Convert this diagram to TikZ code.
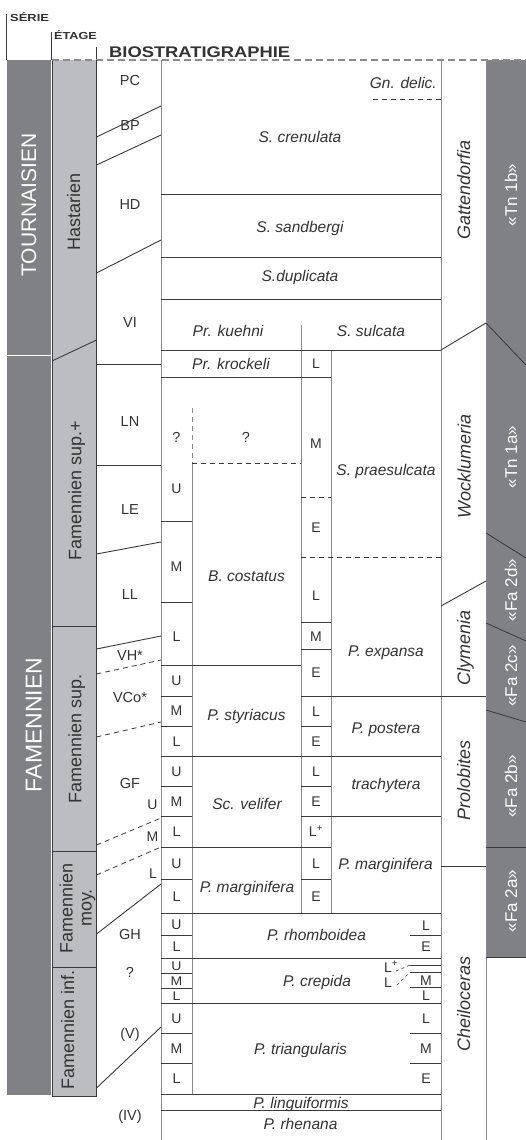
\documentclass[tikz,border=0pt]{standalone}
\usepackage{fontspec}
\setmainfont{Liberation Sans}
\definecolor{serc}{HTML}{808185}
\definecolor{etac}{HTML}{BCBDC0}
\definecolor{lc}{HTML}{3A3A3A}
\definecolor{vc}{HTML}{8A8A8A}
\definecolor{txt}{HTML}{333333}
\definecolor{dc}{HTML}{8C8C8C}
\begin{document}
\begin{tikzpicture}[x=1pt,y=-1pt,
  hl/.style={lc, line width=0.9pt},
  vl/.style={vc, line width=0.9pt},
  dsh/.style={lc, line width=0.8pt, dash pattern=on 5pt off 4pt},
  lab/.style={font=\fontsize{14.5}{16}\selectfont, text=txt, inner sep=0pt, anchor=base},
  sub/.style={font=\fontsize{14}{16}\selectfont, text=txt, inner sep=0pt, anchor=base},
  sp/.style={font=\fontsize{15.5}{18}\selectfont\itshape, text=txt, inner sep=0pt, anchor=base},
  amm/.style={font=\fontsize{18}{20}\selectfont\itshape, text=txt, inner sep=0pt, anchor=base, rotate=90},
  rbar/.style={font=\fontsize{17}{20}\selectfont, text=white, inner sep=0pt, anchor=base, rotate=90},
  eta/.style={font=\fontsize{18}{20}\selectfont, text=txt, inner sep=0pt, anchor=base, rotate=90},
  hdr/.style={font=\bfseries, text=txt, inner sep=0pt, anchor=base west}
]
\useasboundingbox (0,0) rectangle (526,1140);
\fill[white] (0,0) rectangle (526,1140);

% ---- bars ----
\fill[serc] (7,60) rectangle (51,1095);
\draw[white, line width=1pt] (7,355) -- (51,355);
\fill[etac] (52,60) rectangle (96.5,1096);
\draw[lc, line width=0.7pt] (52,60) -- (52,1096) -- (96.5,1096);
\fill[serc] (486,60) rectangle (526,957);

% ---- header ----
\draw[lc, line width=0.8pt] (6,14) -- (6,60);
\draw[lc, line width=0.8pt] (51.5,32) -- (51.5,60);
\draw[lc, line width=0.8pt] (96.5,47) -- (96.5,72);
\node[hdr, font=\bfseries\fontsize{10.2}{12}\selectfont] (hs) at (10,22) {\scalebox{1.27}[1]{SÉRIE}};
\node[hdr, font=\bfseries\fontsize{10.2}{12}\selectfont] (he) at (54,39.5) {\scalebox{1.24}[1]{ÉTAGE}};
\node[hdr, font=\bfseries\fontsize{15.4}{17}\selectfont] (hb) at (109,57) {\scalebox{1.19}[1]{BIOSTRATIGRAPHIE}};
\draw[dc, line width=1.2pt, dash pattern=on 7pt off 4pt] (52,60) -- (526,60);

% ---- vertical lines ----
\draw[lc, line width=0.9pt] (96.5,60) -- (96.5,1096);
\draw[vl] (161,60) -- (161,1140);
\draw[vl] (441,60) -- (441,1140);
\draw[vl] (486,60) -- (486,1140);
\draw[vl] (301,325) -- (301,913);
\draw[vl] (331,350) -- (331,913);
\draw[vl] (192,463) -- (192,1094);
\draw[dsh, vc] (192,408) -- (192,463);

% ---- etage boundaries ----
\draw[hl] (52,361) -- (96.5,340);
\draw[hl] (52,626) -- (96.5,626);
\draw[hl] (52,851) -- (96.5,851);
\draw[hl] (52,967) -- (96.5,967);

% ---- zone column ----
\draw[hl] (96.5,137) -- (161,106);
\draw[hl] (96.5,165) -- (161,135);
\draw[hl] (96.5,273) -- (161,240);
\draw[hl] (96.5,364) -- (161,364);
\draw[hl] (96.5,465) -- (161,465);
\draw[hl] (96.5,554) -- (161,542);
\draw[hl] (96.5,649) -- (161,636);
\draw[dsh] (96.5,674) -- (161,660);
\draw[dsh] (96.5,737) -- (161,722);
\draw[dsh] (96.5,845) -- (161,818);
\draw[dsh] (96.5,875) -- (161,847);
\draw[hl] (96.5,934) -- (161,884);
\draw[hl] (96.5,1088) -- (161,1027);

% ---- conodont column ----
\draw[dsh] (373,99) -- (441,99);
\foreach \yy in {194,257,299,350,913,958,1003,1094,1110}
  \draw[hl] (161,\yy) -- (441,\yy);
\draw[hl] (161,377) -- (331,377);
\draw[dsh] (192,463) -- (301,463);
\foreach \yy in {521,602,696,726,786,816,879,935,973,988,1033,1063}
  \draw[hl] (161,\yy) -- (192,\yy);
\draw[hl] (161,665) -- (301,665);
\draw[hl] (161,756) -- (441,756);
\draw[hl] (161,847) -- (331,847);
\draw[dsh] (301,497) -- (331,497);
\draw[dsh] (301,557) -- (441,557);
\foreach \yy in {622,649,726,786,879}
  \draw[hl] (301,\yy) -- (331,\yy);
\draw[hl] (301,696) -- (486,696);
\draw[hl] (301,816) -- (441,816);
\foreach \yy in {935,965,972,987,1033,1063}
  \draw[hl] (410,\yy) -- (441,\yy);
\draw[dsh, line width=0.6pt, dash pattern=on 3pt off 3pt] (396,971) -- (410,965);
\draw[dsh, line width=0.6pt, dash pattern=on 3pt off 3pt] (397,985) -- (410,972);

% ---- ammonoid column ----
\draw[hl] (441,350) -- (486,323);
\draw[hl] (441,606) -- (486,581);
\draw[hl] (441,866) -- (486,866);

% ---- right bar boundaries ----
\draw[lc, line width=0.8pt] (486,323) -- (526,365);
\draw[lc, line width=0.8pt] (486,533) -- (526,558);
\draw[lc, line width=0.8pt] (486,623) -- (526,641);
\draw[lc, line width=0.8pt] (486,710) -- (526,722);
\draw[lc, line width=0.8pt] (486,847) -- (526,847);
\draw[lc, line width=0.8pt] (486,957) -- (526,957);

% ---- serie / etage labels ----
\node[rotate=90, anchor=base, inner sep=0pt, text=white, font=\fontsize{21}{24}\selectfont] (tou) at (36,205) {TOURNAISIEN};
\node[rotate=90, anchor=base, inner sep=0pt, text=white, font=\fontsize{23}{26}\selectfont] (fam) at (41.5,725) {FAMENNIEN};
\node[eta] (e1) at (80,211.5) {Hastarien};
\node[eta] (e2) at (81.3,491) {Famennien sup.+};
\node[eta] (e3) at (81.3,739) {Famennien sup.};
\node[eta] (e4a) at (72.5,908) {Famennien};
\node[eta] (e4b) at (91.5,908) {moy.};
\node[eta] (e5) at (74,1030) {Famennien inf.};

% ---- zone labels ----
\node[lab] (zPC) at (130,85.2) {PC};
\node[lab] (zBP) at (130,130.2) {BP};
\node[lab] (zHD) at (130,209.2) {HD};
\node[lab] (zVI) at (130,327.2) {VI};
\node[lab] (zLN) at (130,426.2) {LN};
\node[lab] (zLE) at (130,514.2) {LE};
\node[lab] (zLL) at (130,599.2) {LL};
\node[lab] (zVH) at (130,660.7) {VH*};
\node[lab] (zVC) at (130,702.2) {VCo*};
\node[lab] (zGF) at (130,788.2) {GF};
\node[lab] (zGH) at (130,939.7) {GH};
\node[lab] (zQ) at (130,977.2) {?};
\node[lab] (zV) at (130,1038.2) {(V)};
\node[lab] (zIV) at (130,1120.2) {(IV)};
\node[sub] (gU) at (152.5,809) {U};
\node[sub] (gM) at (152.5,841) {M};
\node[sub] (gL) at (153,878) {L};

% ---- left sub-column ----
\node[lab] (aQ) at (176.5,442) {?};
\node[sub] (a1) at (176.5,493.5) {U};
\node[sub] (a2) at (176.5,571) {M};
\node[sub] (a3) at (176.5,641) {L};
\node[sub] (a4) at (176.5,685) {U};
\node[sub] (a5) at (176.5,715.5) {M};
\node[sub] (a6) at (176.5,746) {L};
\node[sub] (a7) at (176.5,776) {U};
\node[sub] (a8) at (176.5,806) {M};
\node[sub] (a9) at (176.5,836.5) {L};
\node[sub] (a10) at (176.5,868) {U};
\node[sub] (a11) at (176.5,901) {L};
\node[sub] (a12) at (176.5,929) {U};
\node[sub] (a13) at (176.5,951.5) {L};
\node[sub] (a14) at (176.5,970) {\scalebox{1}[0.9]{U}};
\node[sub] (a15) at (176.5,985) {\scalebox{1}[0.9]{M}};
\node[sub] (a16) at (176.5,1000) {\scalebox{1}[0.9]{L}};
\node[sub] (a17) at (176.5,1023) {U};
\node[sub] (a18) at (176.5,1053) {M};
\node[sub] (a19) at (176.5,1083.5) {L};

% ---- middle sub-column ----
\node[sub] (b1) at (316,368.5) {L};
\node[sub] (b2) at (316,448.5) {M};
\node[sub] (b3) at (316,532) {E};
\node[sub] (b4) at (316,600) {L};
\node[sub] (b5) at (316,641) {M};
\node[sub] (b6) at (316,677) {E};
\node[sub] (b7) at (316,716) {L};
\node[sub] (b8) at (316,746) {E};
\node[sub] (b9) at (316,776) {L};
\node[sub] (b10) at (316,806) {E};
\node[sub] (b11) at (316,836.5) {L\textsuperscript{+}};
\node[sub] (b12) at (316,868) {L};
\node[sub] (b13) at (316,901) {E};

% ---- right short column ----
\node[sub] (c1) at (426,930) {L};
\node[sub] (c2) at (426,951) {E};
\node[sub] (c3) at (426,985) {M};
\node[sub] (c4) at (426,1000) {L};
\node[sub] (c5) at (426,1023) {L};
\node[sub] (c6) at (426,1053.5) {M};
\node[sub] (c7) at (426,1083.5) {E};
\node[sub, anchor=base west] (c8) at (384,972) {L\textsuperscript{+}};
\node[sub, anchor=base west] (c9) at (384,987) {L};

% ---- species ----
\node[sp, anchor=base east] (s0) at (437,88.5) {Gn. delic.};
\node[sp] (s1) at (300,142) {S. crenulata};
\node[sp] (s2) at (300,232.5) {S. sandbergi};
\node[sp] (s3) at (300,281.5) {S.duplicata};
\node[sp] (s4) at (228,336.5) {Pr. kuehni};
\node[sp] (s5) at (371,336.5) {S. sulcata};
\node[sp] (s6) at (231,369.5) {Pr. krockeli};
\node[lab] (s7) at (246,442) {?};
\node[sp] (s8) at (386,475) {S. praesulcata};
\node[sp] (s9) at (246.5,581.5) {B. costatus};
\node[sp] (s10) at (386,656.5) {P. expansa};
\node[sp] (s11) at (246.5,720.5) {P. styriacus};
\node[sp] (s12) at (386,733) {P. postera};
\node[sp] (s13) at (386,789) {trachytera};
\node[sp] (s14) at (247,809.5) {Sc. velifer};
\node[sp] (s15) at (247,892) {P. marginifera};
\node[sp] (s16) at (385.5,869.5) {P. marginifera};
\node[sp] (s17) at (316.5,940.5) {P. rhomboidea};
\node[sp] (s18) at (317,986.5) {P. crepida};
\node[sp] (s19) at (300.5,1054) {P. triangularis};
\node[sp] (s20) at (301,1108) {P. linguiformis};
\node[sp] (s21) at (300.5,1129.5) {P. rhenana};

% ---- ammonoids ----
\node[amm] (m1) at (470,190) {Gattendorfia};
\node[amm] (m2) at (470.5,466.5) {Wocklumeria};
\node[amm] (m3) at (470,647.5) {Clymenia};
\node[amm] (m4) at (470,780) {Prolobites};
\node[amm] (m5) at (470,1003.5) {Cheiloceras};

% ---- right bar ----
\node[rbar] (r1) at (517,195) {«Tn 1b»};
\node[rbar] (r2) at (517,457) {«Tn 1a»};
\node[rbar] (r3) at (517,590) {«Fa 2d»};
\node[rbar] (r4) at (517,676) {«Fa 2c»};
\node[rbar] (r5) at (517,786.5) {«Fa 2b»};
\node[rbar] (r6) at (517,901) {«Fa 2a»};
\end{tikzpicture}
\end{document}
